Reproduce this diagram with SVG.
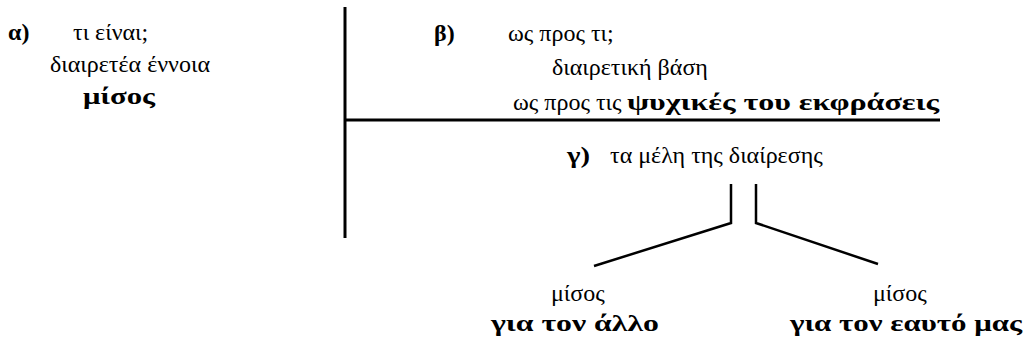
<svg xmlns="http://www.w3.org/2000/svg" width="1030" height="345" viewBox="0 0 1030 345">
<style>
text{font-family:"Liberation Serif","Times New Roman",serif;font-size:24px;fill:#000}
.b{font-weight:bold}
.ln{stroke:#000;stroke-width:3;fill:none}
.br{stroke:#000;stroke-width:2.5;fill:none;stroke-linejoin:miter}
</style>
<rect width="1030" height="345" fill="#fff"/>
<g id="connectors">
<line class="ln" x1="345" y1="7" x2="345" y2="238"/>
<line class="ln" x1="345" y1="120" x2="940" y2="120"/>
<polyline class="br" points="731,184 731,223 594,266"/>
<polyline class="br" points="756,184 756,223 878,264"/>
</g>
<g id="node-a">
<text x="8" y="40" class="b">α)</text>
<text x="73" y="40">τι είναι;</text>
<text x="50" y="72">διαιρετέα έννοια</text>
<text x="83" y="104" class="b" textLength="72" lengthAdjust="spacingAndGlyphs">μίσος</text>
</g>
<g id="node-b">
<text x="434" y="41" class="b">β)</text>
<text x="508" y="41">ως προς τι;</text>
<text x="552" y="75">διαιρετική βάση</text>
<text x="513" y="110">ως προς τις</text>
<text x="627" y="110" class="b" textLength="312" lengthAdjust="spacingAndGlyphs">ψυχικές του εκφράσεις</text>
</g>
<g id="node-c">
<text x="567" y="163" class="b" textLength="23" lengthAdjust="spacingAndGlyphs">γ)</text>
<text x="610" y="163">τα μέλη της διαίρεσης</text>
</g>
<g id="node-left">
<text x="551" y="301">μίσος</text>
<text x="491" y="331" class="b" textLength="168" lengthAdjust="spacingAndGlyphs">για τον άλλο</text>
</g>
<g id="node-right">
<text x="873" y="301">μίσος</text>
<text x="790" y="331" class="b" textLength="232" lengthAdjust="spacingAndGlyphs">για τον εαυτό μας</text>
</g>
</svg>
